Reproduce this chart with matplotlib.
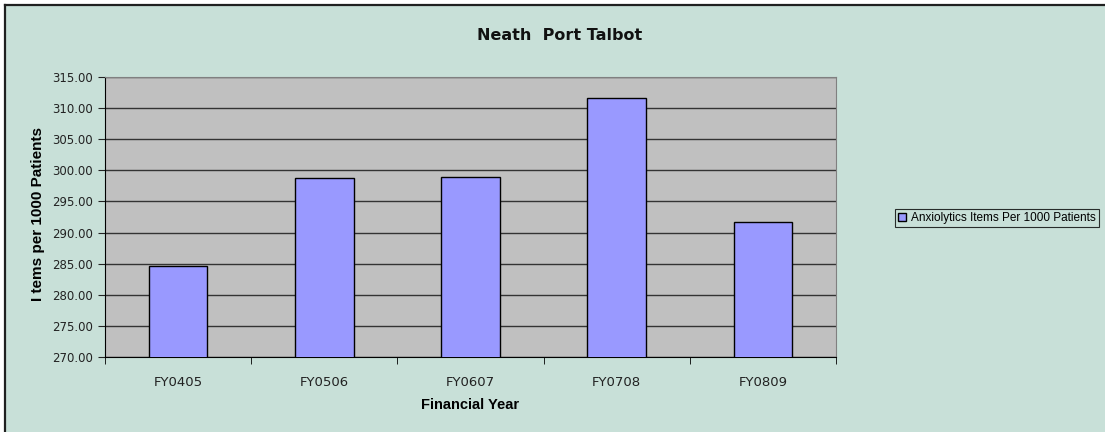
import matplotlib
matplotlib.use('Agg')
import matplotlib.pyplot as plt
from matplotlib.patches import Rectangle
from matplotlib.lines import Line2D
import numpy as np

years = ['FY0405', 'FY0506', 'FY0607', 'FY0708', 'FY0809']
items_per_1000 = [284.6, 298.7, 299.0, 311.6, 291.7]
series_name = 'Anxiolytics Items Per 1000 Patients'

bg = '#c8e0d8'
W, H = 1105, 432

fig = plt.figure(figsize=(W / 100, H / 100), dpi=100)
fig.patch.set_facecolor('white')

# chart area background, cropped at right/bottom like the original
fig.patches.append(Rectangle((5 / W, -0.1), 1.2, 1 - 5 / H + 0.1,
                             transform=fig.transFigure, facecolor=bg,
                             edgecolor='none', zorder=-2))
fig.lines.append(Line2D([5 / W, 5 / W], [0, 1 - 5 / H], transform=fig.transFigure,
                        color='#202020', linewidth=1.6))
fig.lines.append(Line2D([5 / W, 1], [1 - 5 / H, 1 - 5 / H], transform=fig.transFigure,
                        color='#202020', linewidth=1.6))

ax = fig.add_axes([105 / W, 1 - 357 / H, (836 - 105) / W, (357 - 77) / H])
ax.set_facecolor('#c0c0c0')

x = np.arange(len(years))
ax.bar(x, items_per_1000, width=0.4, color='#9999ff',
       edgecolor='black', linewidth=1.0, label=series_name, zorder=3)

yt = np.arange(270, 315.1, 5)
ax.set_ylim(270, 315)
ax.set_xlim(-0.5, len(years) - 0.5)
ax.set_yticks(yt)
ax.set_yticklabels([f'{v:.2f}' for v in yt])
ax.yaxis.grid(True, color='#333333', linewidth=1.0, zorder=1)
ax.set_axisbelow(True)

ax.set_xticks(x)
ax.set_xticklabels(years)
ax.set_xticks(np.arange(-0.5, len(years)), minor=True)
ax.tick_params(axis='x', which='major', length=0, pad=14, labelsize=9.5, colors='#222222')
ax.tick_params(axis='x', which='minor', length=5, direction='out', color='black')
ax.tick_params(axis='y', length=5, direction='out', labelsize=8.5, colors='#222222')

for side in ['top', 'right']:
    ax.spines[side].set_color('#808080')
for side in ['left', 'bottom']:
    ax.spines[side].set_color('black')

label_font = dict(family='Liberation Sans', fontweight='bold')
fig.text(470 / W, 1 - 405 / H, 'Financial Year', ha='center', va='center',
         fontsize=10.5, **label_font)
fig.text(38 / W, 1 - 214 / H, 'I tems per 1000 Patients', ha='center', va='center',
         rotation=90, fontsize=11, **label_font)
fig.text(560 / W, 1 - 36 / H, 'Neath  Port Talbot', ha='center', va='center',
         fontsize=11.5, fontweight='bold', color='#111111')

leg = fig.legend(loc='center left', bbox_to_anchor=(895 / W, 1 - 218 / H),
                 prop={'family': 'Liberation Sans', 'size': 8.5},
                 frameon=True, fancybox=False, handlelength=0.7,
                 handleheight=0.7, handletextpad=0.4, borderpad=0.25,
                 borderaxespad=0)
leg.get_frame().set_edgecolor('black')
leg.get_frame().set_facecolor(bg)
leg.get_frame().set_linewidth(0.8)

plt.savefig('out.png', dpi=100, facecolor=fig.get_facecolor())
